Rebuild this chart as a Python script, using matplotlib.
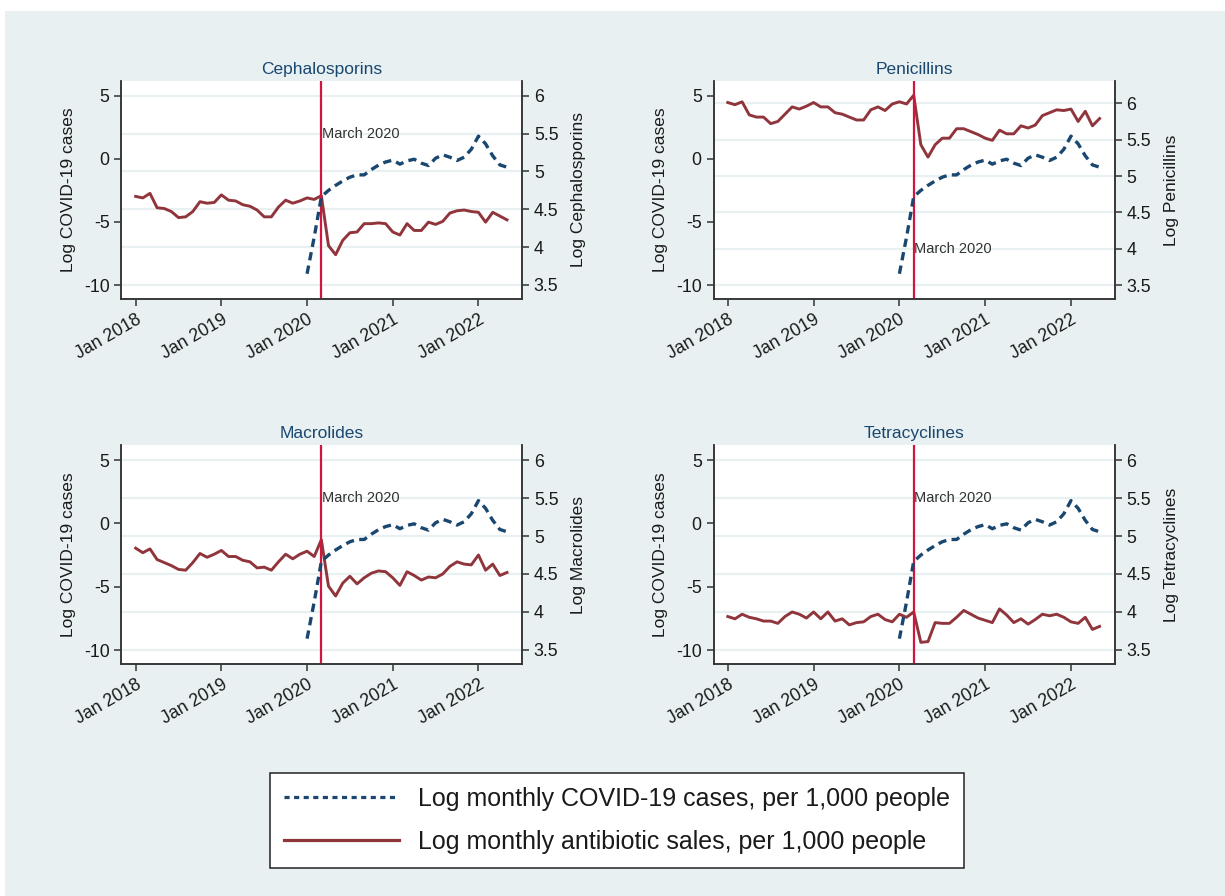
import matplotlib
matplotlib.use("Agg")
import matplotlib.pyplot as plt
from matplotlib.patches import Rectangle
from matplotlib.lines import Line2D

plt.rcParams['font.family'] = ['Liberation Sans', 'DejaVu Sans']
plt.rcParams['axes.unicode_minus'] = False

# months since Jan 2018 (0 = Jan 2018 ... 52 = May 2022)
months = list(range(53))
covid_months = list(range(24, 53))
xtick_pos = [0, 12, 24, 36, 48]
xtick_labels = ["Jan 2018", "Jan 2019", "Jan 2020", "Jan 2021", "Jan 2022"]
march2020 = 26

covid = [-9.1, -6.2, -3.0, -2.5, -2.1, -1.75, -1.45, -1.27, -1.27, -0.85, -0.5,
         -0.25, -0.1, -0.42, -0.16, -0.03, -0.34, -0.53, 0.05, 0.32, 0.13, -0.13,
         0.13, 0.76, 1.8, 1.19, 0.24, -0.48, -0.66]

cephalosporins = [4.67, 4.65, 4.71, 4.52, 4.51, 4.47, 4.39, 4.40, 4.47, 4.60, 4.58,
                  4.59, 4.69, 4.62, 4.61, 4.56, 4.54, 4.49, 4.40, 4.40, 4.53, 4.62,
                  4.58, 4.61, 4.65, 4.63, 4.68, 4.02, 3.90, 4.09, 4.19, 4.20, 4.31,
                  4.31, 4.32, 4.31, 4.20, 4.16, 4.31, 4.22, 4.22, 4.33, 4.30, 4.34,
                  4.45, 4.48, 4.49, 4.47, 4.46, 4.33, 4.46, 4.41, 4.36]

penicillins = [6.01, 5.98, 6.02, 5.84, 5.81, 5.81, 5.72, 5.75, 5.85, 5.95, 5.92,
               5.96, 6.01, 5.95, 5.95, 5.87, 5.85, 5.81, 5.77, 5.77, 5.91, 5.95,
               5.90, 5.99, 6.02, 5.99, 6.11, 5.43, 5.26, 5.43, 5.52, 5.52, 5.65,
               5.65, 5.61, 5.57, 5.52, 5.49, 5.63, 5.58, 5.58, 5.69, 5.66, 5.70,
               5.83, 5.87, 5.91, 5.90, 5.92, 5.75, 5.89, 5.69, 5.79]

macrolides = [4.84, 4.78, 4.83, 4.69, 4.65, 4.61, 4.56, 4.55, 4.65, 4.77, 4.72,
              4.76, 4.81, 4.73, 4.73, 4.68, 4.66, 4.58, 4.59, 4.55, 4.66, 4.76,
              4.70, 4.76, 4.80, 4.73, 4.95, 4.34, 4.21, 4.38, 4.47, 4.37, 4.45,
              4.51, 4.54, 4.53, 4.45, 4.35, 4.53, 4.48, 4.42, 4.46, 4.45, 4.50,
              4.60, 4.66, 4.63, 4.62, 4.75, 4.55, 4.63, 4.48, 4.52]

tetracyclines = [3.94, 3.91, 3.97, 3.93, 3.91, 3.88, 3.88, 3.85, 3.94, 4.00, 3.97,
                 3.92, 4.00, 3.91, 4.00, 3.88, 3.91, 3.83, 3.86, 3.87, 3.94, 3.97,
                 3.90, 3.87, 3.97, 3.93, 4.00, 3.60, 3.61, 3.86, 3.85, 3.85, 3.93,
                 4.02, 3.97, 3.92, 3.89, 3.86, 4.04, 3.96, 3.86, 3.91, 3.84, 3.90,
                 3.97, 3.95, 3.97, 3.93, 3.87, 3.85, 3.93, 3.77, 3.81]

left_ticks = [5, 0, -5, -10]
right_ticks = [6, 5.5, 5, 4.5, 4, 3.5]
right_tick_labels = ["6", "5.5", "5", "4.5", "4", "3.5"]

panels = [
    ("Cephalosporins", cephalosporins, (3.315, 6.198), 5.5),
    ("Penicillins", penicillins, (3.31, 6.31), 4.0),
    ("Macrolides", macrolides, (3.315, 6.198), 5.5),
    ("Tetracyclines", tetracyclines, (3.315, 6.198), 5.5),
]

W, H = 1225, 896
BG = "#E8F0F2"
NAVY = "#1A476F"
MAROON = "#90353B"
VLINE = "#D0163F"
TXT = "#1a1a1a"

fig = plt.figure(figsize=(W / 100, H / 100), dpi=100, facecolor="white")
fig.patches.append(Rectangle((5 / W, 0), 1 - 5 / W, 1 - 11 / H,
                             transform=fig.transFigure, facecolor=BG,
                             edgecolor="none", zorder=-10))

boxes = [
    (121.4, 522.0, 80.7, 299.0),
    (713.5, 1114.6, 80.7, 299.0),
    (121.4, 522.0, 445.0, 664.0),
    (713.5, 1114.6, 445.0, 664.0),
]

for (name, series, rlim, ann_y), (x0, x1, y0, y1) in zip(panels, boxes):
    ax = fig.add_axes([x0 / W, 1 - y1 / H, (x1 - x0) / W, (y1 - y0) / H])
    ax.set_facecolor("white")
    ax2 = ax.twinx()

    # primary axis: antibiotic sales (right side)
    ax.yaxis.tick_right()
    ax.yaxis.set_label_position("right")
    ax.plot(months, series, color=MAROON, lw=2.1, zorder=3)
    ax.set_ylim(*rlim)
    ax.set_yticks(right_ticks)
    ax.set_yticklabels(right_tick_labels)
    ax.set_ylabel("Log " + name, fontsize=12.5, color=TXT, labelpad=9)
    ax.yaxis.grid(True, color=BG, lw=1.6)
    ax.set_axisbelow(True)
    ax.axvline(march2020, color=VLINE, lw=1.6, zorder=4)
    ax.text(march2020 + 0.1, ann_y, "March 2020", fontsize=10.5, color="#333333",
            va="center", ha="left", zorder=5)
    ax.set_xlim(-2, 54.1)
    ax.set_xticks(xtick_pos)
    ax.set_xticklabels(xtick_labels, rotation=30, ha="right", rotation_mode="anchor")
    ax.set_title(name, fontsize=12.5, color=NAVY, pad=5)

    # twin axis: COVID cases (left side)
    ax2.yaxis.tick_left()
    ax2.yaxis.set_label_position("left")
    ax2.plot(covid_months, covid, color=NAVY, lw=2.4, ls=(0, (2.5, 1.6)), zorder=3)
    ax2.set_ylim(-11.1, 6.19)
    ax2.set_yticks(left_ticks)
    ax2.set_ylabel("Log COVID-19 cases", fontsize=12.5, color=TXT, labelpad=6)

    for a in (ax, ax2):
        a.spines["top"].set_visible(False)
        for s in ("left", "right", "bottom"):
            a.spines[s].set_color("#333333")
            a.spines[s].set_linewidth(1.1)
        a.tick_params(axis="both", labelsize=12.8, colors="#333333", length=5,
                      width=1.1, labelcolor=TXT)

handles = [Line2D([], [], color=NAVY, lw=2.3, ls=(0, (1.6, 1.4))),
           Line2D([], [], color=MAROON, lw=2.3)]
labels = ["Log monthly COVID-19 cases, per 1,000 people",
          "Log monthly antibiotic sales, per 1,000 people"]
leg = fig.legend(handles, labels, loc="center", bbox_to_anchor=(617 / W, 1 - 820.5 / H),
                 fontsize=18, handlelength=4.6, handletextpad=0.75, frameon=True,
                 fancybox=False, edgecolor="#222222", facecolor="white", framealpha=1,
                 borderpad=0.55, labelspacing=0.75, borderaxespad=0)
leg.get_frame().set_linewidth(1.1)
for t in leg.get_texts():
    t.set_color(TXT)

fig.savefig("out.png", dpi=100, facecolor=fig.get_facecolor())
